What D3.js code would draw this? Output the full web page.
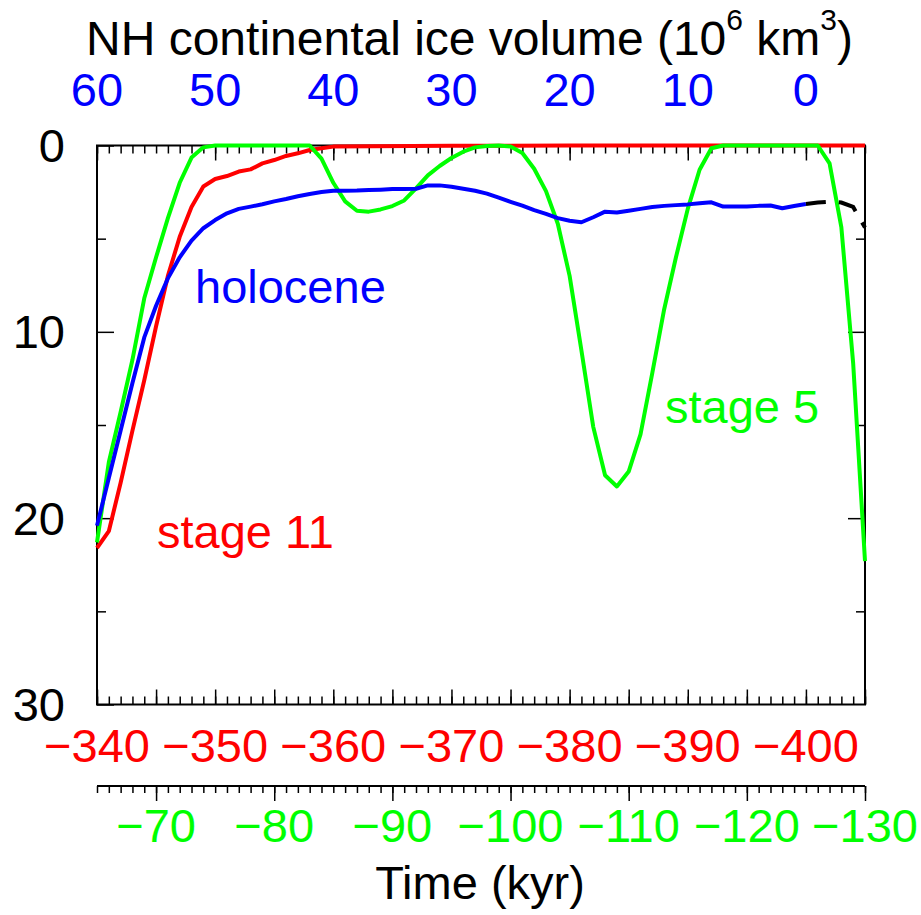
<!DOCTYPE html>
<html><head><meta charset="utf-8">
<script src="https://cdn.jsdelivr.net/npm/d3@7"></script>
<style>body{margin:0;background:#fff} text{font-family:"Liberation Sans",Arial,Helvetica,sans-serif}</style>
</head><body><svg id="c" width="921" height="915"></svg>
<script>
// ---- data ----
const stage11Time = [-340,-341,-342,-343,-344,-345,-346,-347,-348,-349,-350,-351,-352,-353,-354,-355,-356,-357,-358,-359,-360,-370,-380,-390,-405];
const stage11Val  = [21.6,20.7,18.1,15.3,12.6,9.7,7.0,4.9,3.3,2.2,1.8,1.64,1.4,1.28,0.96,0.78,0.56,0.42,0.24,0.15,0.06,0.02,0.0,0.0,0.0];

const stage5Time = [-65,-66,-67,-68,-69,-70,-71,-72,-73,-74,-75,
  -83,-84,-85,-86,-87,-88,-89,-90,-91,-92,-93,-94,-95,-96,-97,-98,-99,-100,-101,-102,-103,-104,-105,-106,-107,-108,-109,-110,-111,-112,-113,-114,-115,-116,-117,-118,
  -126,-127,-128,-129,-130];
const stage5Val = [21.3,17.0,14.3,11.5,8.2,6.0,3.9,2.0,0.65,0.1,0,
  0,0.7,2.0,3.0,3.5,3.55,3.43,3.25,2.95,2.3,1.6,1.1,0.67,0.33,0.1,0.03,0,0.05,0.4,1.25,2.45,4.2,7.0,11.0,15.1,17.7,18.3,17.5,15.5,12.2,8.8,6.0,3.4,1.3,0.15,0,
  0,0.96,4.4,11.7,22.3];

const holoTime = d3.range(-340,-401,-1);
const holoVal = [20.4,17.85,15.3,12.75,10.3,8.6,7.13,6.0,5.1,4.44,4.0,3.64,3.4,3.28,3.15,3.0,2.87,2.72,2.6,2.5,
  2.43,2.43,2.42,2.39,2.37,2.34,2.33,2.32,2.14,2.14,2.21,2.32,2.43,2.58,2.8,3.02,3.23,3.47,3.67,3.9,
  4.04,4.12,3.85,3.55,3.6,3.5,3.4,3.3,3.24,3.2,3.16,3.1,3.05,3.28,3.28,3.28,3.24,3.22,3.37,3.25,3.14];

const futureTime = [-400,-401,-402,-403,-404,-405];
const futureVal  = [3.14,3.06,3.02,3.06,3.3,4.4];

const redTicks   = [-340,-350,-360,-370,-380,-390,-400];
const blueTicks  = [60,50,40,30,20,10,0];
const greenTicks = [-70,-80,-90,-100,-110,-120,-130];
const yTicks     = [0,10,20,30];

// ---- layout ----
const L = 97, R = 865, T = 145.5, B = 704.5, GY = 786;
const svg = d3.select("#c");
const xR = d3.scaleLinear().domain([-340,-405]).range([L,R]);
const xG = d3.scaleLinear().domain([-65,-130]).range([L,R]);
const xB = d3.scaleLinear().domain([60,-5]).range([L,R]);
const y  = d3.scaleLinear().domain([0,30]).range([T,B]);
const fmt = v => String(v).replace("-", "\u2212");
const FS = 47;

function tickAxis(axisFn, scale, vals, size, tx, ty){
  const g = svg.append("g").attr("transform",`translate(${tx},${ty})`)
    .call(axisFn(scale).tickValues(vals).tickSize(size).tickFormat(""));
  g.select(".domain").remove();
  g.selectAll("line").attr("stroke","#000").attr("stroke-width",1.5);
  return g;
}
const minorR = d3.range(-340,-406,-1);
// top edge (ticks inward / down)
tickAxis(d3.axisBottom, xR, minorR, 8, 0, T);
tickAxis(d3.axisBottom, xR, d3.range(-340,-406,-10), 15, 0, T);
// bottom edge (ticks up)
tickAxis(d3.axisTop, xR, minorR, 8, 0, B);
tickAxis(d3.axisTop, xR, d3.range(-340,-406,-5), 15, 0, B);
// left / right
tickAxis(d3.axisRight, y, [5,15,25], 9, L, 0);
tickAxis(d3.axisRight, y, [0,10,20,30], 17, L, 0);
tickAxis(d3.axisLeft, y, [5,15,25], 9, R, 0);
tickAxis(d3.axisLeft, y, [10,20], 17, R, 0);

// green axis
svg.append("line").attr("x1",L).attr("x2",R).attr("y1",GY).attr("y2",GY).attr("stroke","#000").attr("stroke-width",2);
tickAxis(d3.axisBottom, xG, d3.range(-65,-131,-1), 7, 0, GY);
tickAxis(d3.axisBottom, xG, greenTicks, 15, 0, GY);

// frame
svg.append("rect").attr("x",L).attr("y",T).attr("width",R-L).attr("height",B-T)
  .attr("fill","none").attr("stroke","#000").attr("stroke-width",2);

// curves
const line = (xs) => d3.line().x(d=>xs(d[0])).y(d=>y(d[1]));
const zip = (a,b) => a.map((v,i)=>[v,b[i]]);
svg.append("path").datum(zip(stage11Time,stage11Val)).attr("d",line(xR))
  .attr("fill","none").attr("stroke","#ff0000").attr("stroke-width",4).attr("stroke-linejoin","round");
svg.append("path").datum(zip(stage5Time,stage5Val)).attr("d",line(xG))
  .attr("fill","none").attr("stroke","#00ff00").attr("stroke-width",4).attr("stroke-linejoin","round");
svg.append("path").datum(zip(holoTime,holoVal)).attr("d",line(xR))
  .attr("fill","none").attr("stroke","#0000ff").attr("stroke-width",4).attr("stroke-linejoin","round");
svg.append("path").datum(zip(futureTime,futureVal)).attr("d",line(xR))
  .attr("fill","none").attr("stroke","#000").attr("stroke-width",4).attr("stroke-dasharray","20,13");

// tick labels
svg.selectAll(".rl").data(redTicks).enter().append("text")
  .attr("x",d=>xR(d)).attr("y",762).attr("text-anchor","middle").attr("font-size",FS).attr("fill","#ff0000").text(fmt);
svg.selectAll(".bl").data(blueTicks).enter().append("text")
  .attr("x",d=>xB(d)).attr("y",106).attr("text-anchor","middle").attr("font-size",FS).attr("fill","#0000ff").text(fmt);
svg.selectAll(".gl").data(greenTicks).enter().append("text")
  .attr("x",d=>xG(d)).attr("y",842).attr("text-anchor","middle").attr("font-size",FS).attr("fill","#00ff00").text(fmt);
svg.selectAll(".yl").data(yTicks).enter().append("text")
  .attr("x",65).attr("y",d=>y(d)+16.5).attr("text-anchor","end").attr("font-size",FS).attr("fill","#000").text(fmt);

// titles
const tt = svg.append("text").attr("x",469.5).attr("y",55).attr("text-anchor","middle").attr("font-size",48).attr("fill","#000");
tt.append("tspan").text("NH continental ice volume (10");
tt.append("tspan").attr("font-size",30).attr("dy",-25).text("6");
tt.append("tspan").attr("dy",25).text(" km");
tt.append("tspan").attr("font-size",30).attr("dy",-25).text("3");
tt.append("tspan").attr("dy",25).text(")");
svg.append("text").attr("x",480).attr("y",899).attr("text-anchor","middle").attr("font-size",FS).attr("fill","#000").text("Time (kyr)");

// series labels
svg.append("text").attr("x",195).attr("y",303).attr("font-size",FS).attr("fill","#0000ff").text("holocene");
svg.append("text").attr("x",157).attr("y",548).attr("font-size",FS).attr("fill","#ff0000").text("stage 11");
svg.append("text").attr("x",665).attr("y",423).attr("font-size",FS).attr("fill","#00ff00").text("stage 5");
</script></body></html>
